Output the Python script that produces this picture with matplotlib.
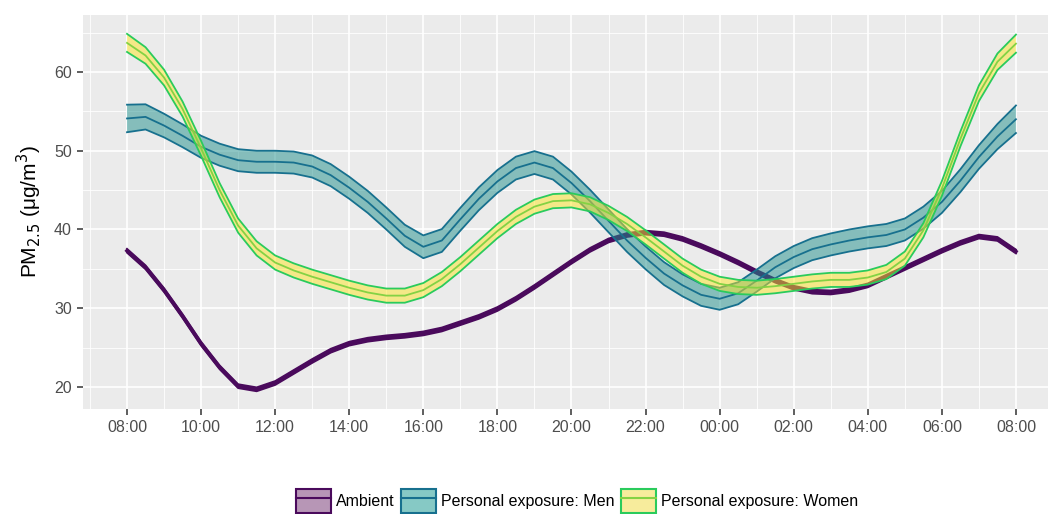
import numpy as np
import matplotlib
matplotlib.use("Agg")
import matplotlib.pyplot as plt
from matplotlib.patches import Patch
from matplotlib.lines import Line2D

plt.rcParams['font.family'] = ['Liberation Sans', 'DejaVu Sans']

# hours after 08:00, every half hour
hours = np.arange(0, 24.5, 0.5)

ambient = [37.3, 35.2, 32.3, 29.0, 25.5, 22.5, 20.1, 19.7, 20.5, 21.9,
           23.3, 24.6, 25.5, 26.0, 26.3, 26.5, 26.8, 27.3, 28.1, 28.9,
           29.9, 31.2, 32.7, 34.3, 35.9, 37.4, 38.6, 39.3, 39.6, 39.4,
           38.8, 37.9, 36.9, 35.8, 34.6, 33.5, 32.6, 32.1, 32.0, 32.3,
           32.9, 34.0, 35.1, 36.2, 37.3, 38.3, 39.1, 38.8, 37.2]
ambient_hw = [0.25] * 49

men = [54.1, 54.3, 53.2, 51.9, 50.5, 49.5, 48.8, 48.6, 48.6, 48.5,
       48.0, 46.9, 45.3, 43.5, 41.4, 39.2, 37.8, 38.6, 41.3, 43.9,
       46.1, 47.8, 48.5, 47.8, 45.9, 43.6, 41.1, 38.6, 36.4, 34.4,
       32.9, 31.7, 31.2, 31.9, 33.5, 35.2, 36.5, 37.5, 38.1, 38.6,
       39.0, 39.3, 40.0, 41.5, 43.5, 46.2, 49.2, 51.8, 54.0]
men_hw = [1.75, 1.6, 1.5, 1.45, 1.4, 1.4, 1.4, 1.4, 1.4, 1.4,
          1.4, 1.4, 1.4, 1.4, 1.4, 1.4, 1.45, 1.45, 1.45, 1.45,
          1.45, 1.45, 1.45, 1.45, 1.45, 1.45, 1.45, 1.45, 1.45, 1.45,
          1.4, 1.4, 1.4, 1.4, 1.4, 1.4, 1.4, 1.4, 1.4, 1.4,
          1.4, 1.4, 1.4, 1.4, 1.4, 1.45, 1.5, 1.6, 1.75]

women = [63.7, 62.1, 59.3, 55.3, 50.3, 45.0, 40.5, 37.6, 35.8, 34.8,
         34.0, 33.3, 32.6, 32.0, 31.6, 31.6, 32.3, 33.7, 35.6, 37.7,
         39.8, 41.6, 42.9, 43.6, 43.7, 43.2, 42.1, 40.7, 39.0, 37.2,
         35.4, 34.0, 33.1, 32.7, 32.6, 32.8, 33.1, 33.4, 33.6, 33.6,
         33.9, 34.6, 36.3, 39.9, 45.2, 51.5, 57.3, 61.3, 63.6]
women_hw = [1.15, 1.05, 1.0, 0.95, 0.95, 0.9, 0.9, 0.9, 0.9, 0.9,
            0.9, 0.9, 0.9, 0.9, 0.9, 0.9, 0.9, 0.9, 0.9, 0.9,
            0.9, 0.9, 0.9, 0.9, 0.9, 0.9, 0.9, 0.9, 0.9, 0.9,
            0.9, 0.9, 0.9, 0.9, 0.9, 0.9, 0.9, 0.9, 0.9, 0.9,
            0.9, 0.9, 0.9, 0.9, 0.95, 0.95, 1.0, 1.05, 1.15]

names = ["Ambient", "Personal exposure: Men", "Personal exposure: Women"]
fills = ["#440154", "#21908C", "#FDE725"]
edges = ["#4A0A5C", "#17708E", "#2ACB5C"]
centers = ["#4A0A5C", "#17708E", "#84D244"]
key_fills = ["#B796B6", "#86C9C5", "#F7EC9C"]

tick_pos = [0, 2, 4, 6, 8, 10, 12, 14, 16, 18, 20, 22, 24]
tick_lab = ["08:00", "10:00", "12:00", "14:00", "16:00", "18:00", "20:00",
            "22:00", "00:00", "02:00", "04:00", "06:00", "08:00"]

fig = plt.figure(figsize=(10.48, 5.14), dpi=100)
ax = fig.add_axes([83 / 1048, 1 - 409 / 514, 1 - 83 / 1048, 394 / 514])
ax.set_facecolor("#EBEBEB")

series = [(ambient, ambient_hw), (men, men_hw), (women, women_hw)]
for i, (vals, hw) in enumerate(series):
    v = np.array(vals)
    h = np.array(hw)
    lw = 1.3
    ax.fill_between(hours, v - h, v + h, facecolor=fills[i], alpha=0.5,
                    linewidth=0, zorder=3 + i)
    ax.plot(hours, v - h, color=edges[i], lw=lw, zorder=3 + i)
    ax.plot(hours, v + h, color=edges[i], lw=lw, zorder=3 + i)
    ax.plot(hours, v, color=centers[i], lw=lw, zorder=3 + i)
    if i == 0:
        ax.plot(hours, v, color=edges[i], lw=2.6, zorder=3)

ax.set_xlim(-44 / 37.04, (1048 - 127) / 37.04)
ax.set_ylim(17.2, 67.24)
ax.set_xticks(tick_pos)
ax.set_xticklabels(tick_lab)
ax.set_xticks(np.arange(-1, 25, 2), minor=True)
ax.set_yticks([20, 30, 40, 50, 60])
ax.set_yticks([25, 35, 45, 55, 65], minor=True)
ax.grid(which="major", color="white", lw=1.2, zorder=0)
ax.grid(which="minor", color="white", lw=0.6, zorder=0)
ax.set_axisbelow(True)
for s in ax.spines.values():
    s.set_visible(False)
ax.tick_params(which="major", length=4, width=1.1, color="#333333",
               labelsize=11.5, labelcolor="#4D4D4D", pad=4)
ax.tick_params(which="minor", length=0)

ax.set_ylabel(r"PM$_{2.5}$ ($\mathregular{\mu}$g/m$^3$)", fontsize=15, labelpad=7)

handles = []
for i in range(3):
    handles.append((Patch(facecolor=key_fills[i], edgecolor=edges[i], lw=1.5),
                    Line2D([], [], color=centers[i], lw=1.5)))
fig.legend(handles, names, loc="center", ncol=3, frameon=False,
           bbox_to_anchor=(577 / 1048, 1 - 501 / 514), fontsize=11.5,
           handlelength=2.2, handleheight=1.9, handletextpad=0.3,
           columnspacing=0.4)

fig.savefig("out.png", dpi=100)
